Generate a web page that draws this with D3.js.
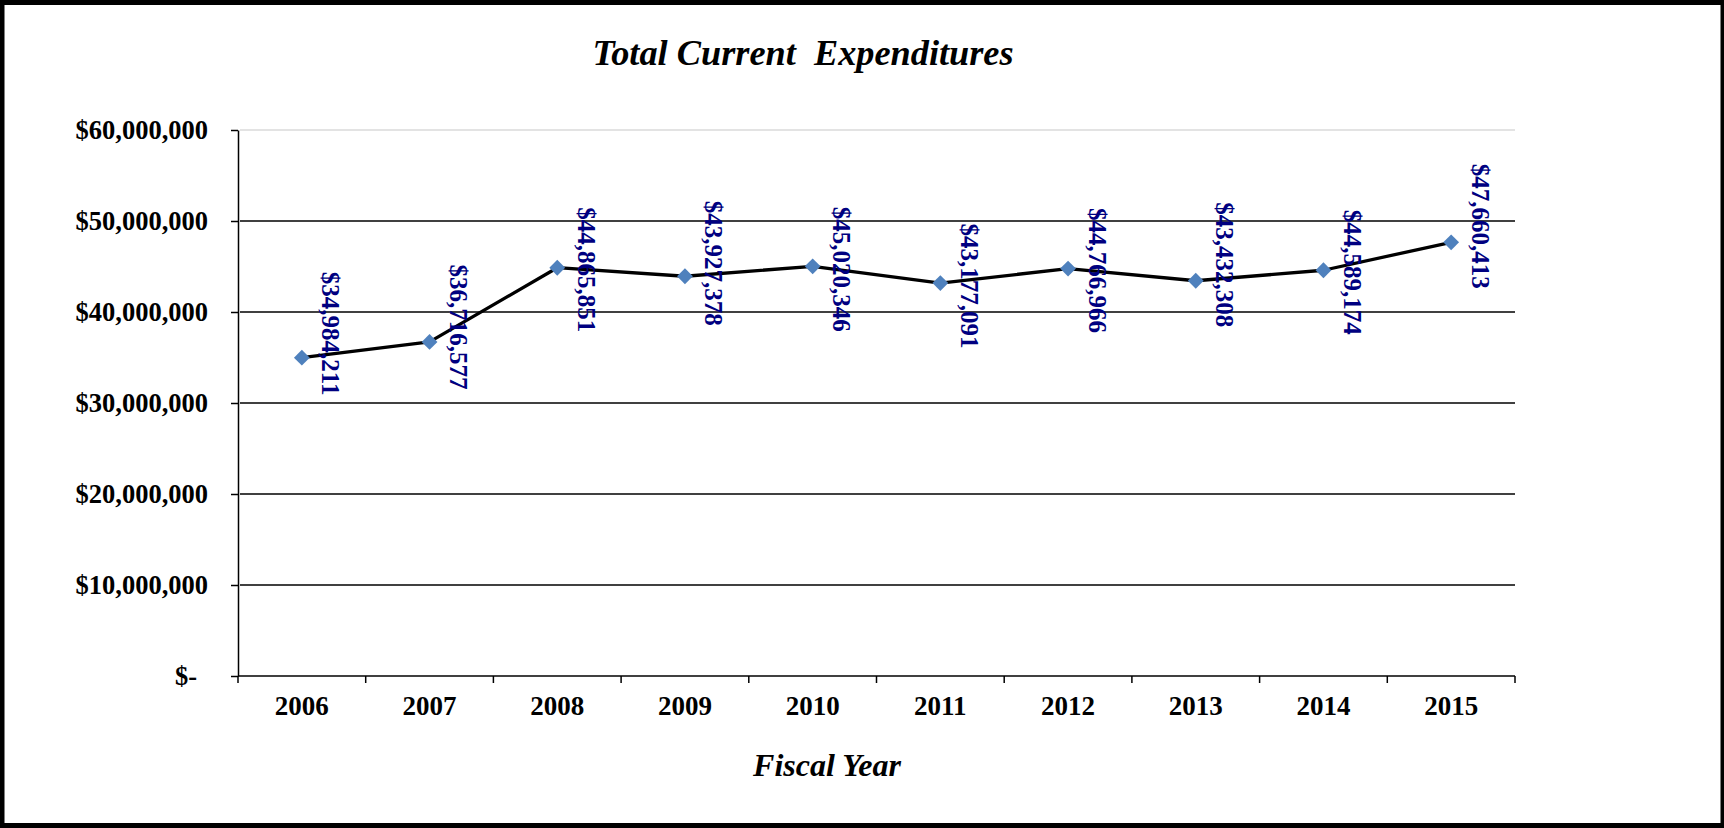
<!DOCTYPE html>
<html>
<head>
<meta charset="utf-8">
<script src="https://cdn.jsdelivr.net/npm/d3@7"></script>
<style>
  html, body { margin: 0; padding: 0; background: #fff; }
  svg { display: block; }
  text { font-family: "Times New Roman", "Liberation Serif", "DejaVu Serif", serif; font-weight: bold; }
</style>
</head>
<body>
<svg id="chart" width="1724" height="828"></svg>
<script>
// ---- data ----
const years = ["2006", "2007", "2008", "2009", "2010", "2011", "2012", "2013", "2014", "2015"];
const expenditures = [34984211, 36716577, 44865851, 43927378, 45020346, 43177091, 44766966, 43432308, 44589174, 47660413];
const yTickValues = [0, 10000000, 20000000, 30000000, 40000000, 50000000, 60000000];
const yTickLabels = ["$-", "$10,000,000", "$20,000,000", "$30,000,000", "$40,000,000", "$50,000,000", "$60,000,000"];
const chartTitle = "Total Current  Expenditures";
const xAxisTitle = "Fiscal Year";

// ---- layout (label nudges, px; manual label placement as in the reference) ----
const labelShiftPx = [-24, -15, 2, -13, 3, 3, 2, -16, 2, -16];

const svg = d3.select("#chart");
const plot = { left: 238, right: 1515, top: 130, bottom: 676 };
const serif = "'Times New Roman', 'Liberation Serif', serif";

// outer border
svg.append("rect")
  .attr("x", 2).attr("y", 2.5).attr("width", 1721).attr("height", 823)
  .attr("fill", "#fff").attr("stroke", "#000").attr("stroke-width", 5);

const x = d3.scaleBand().domain(years).range([plot.left, plot.right]).padding(0);
const y = d3.scaleLinear().domain([0, 60000000]).range([plot.bottom, plot.top]);

// gridlines
svg.append("g").selectAll("line")
  .data(yTickValues.filter(v => v > 0))
  .join("line")
  .attr("x1", plot.left + 2).attr("x2", plot.right)
  .attr("y1", d => y(d)).attr("y2", d => y(d))
  .attr("stroke", d => d === 60000000 ? "#c8c8c8" : "#000")
  .attr("stroke-width", d => d === 60000000 ? 1.2 : 1.5);

// y axis
const yAxis = d3.axisLeft(y)
  .tickValues(yTickValues)
  .tickFormat((d, i) => yTickLabels[i])
  .tickSize(7).tickSizeOuter(0).tickPadding(23);
const gy = svg.append("g").attr("transform", `translate(${plot.left},0)`).call(yAxis);
gy.select(".domain").attr("stroke", "#000").attr("stroke-width", 1.5);
gy.selectAll(".tick line").attr("stroke", "#000").attr("stroke-width", 1.5);
gy.selectAll(".tick text")
  .attr("font-size", 26.5).attr("fill", "#000")
  .attr("font-family", serif)
  .attr("font-weight", "bold")
  .attr("x", d => d === 0 ? -41 : -30);

// x axis line + boundary ticks
svg.append("line")
  .attr("x1", plot.left).attr("x2", plot.right)
  .attr("y1", plot.bottom).attr("y2", plot.bottom)
  .attr("stroke", "#000").attr("stroke-width", 1.5);
const bounds = years.map(d => x(d)).concat([plot.right]);
svg.append("g").selectAll("line")
  .data(bounds).join("line")
  .attr("x1", d => d).attr("x2", d => d)
  .attr("y1", plot.bottom).attr("y2", plot.bottom + 7)
  .attr("stroke", "#000").attr("stroke-width", 1.5);

// x labels
const xAxis = d3.axisBottom(x).tickSize(0).tickPadding(0);
const gx = svg.append("g").attr("transform", `translate(0,${plot.bottom})`).call(xAxis);
gx.select(".domain").remove();
gx.selectAll(".tick text")
  .attr("y", 39).attr("dy", 0)
  .attr("font-size", 27).attr("fill", "#000")
  .attr("font-family", serif)
  .attr("font-weight", "bold");

// line
const cx = d => x(d) + x.bandwidth() / 2;
const line = d3.line().x((d, i) => cx(years[i])).y(d => y(d));
svg.append("path")
  .datum(expenditures)
  .attr("d", line)
  .attr("fill", "none").attr("stroke", "#000").attr("stroke-width", 3.3)
  .attr("stroke-linejoin", "round");

// markers
const diamond = d3.symbol().type(d3.symbolSquare).size(125);
svg.append("g").selectAll("path")
  .data(expenditures).join("path")
  .attr("d", diamond)
  .attr("transform", (d, i) => `translate(${cx(years[i])},${y(d)}) rotate(45)`)
  .attr("fill", "#4F81BD");

// data labels (rotated)
const fmt = d3.format("$,");
svg.append("g").selectAll("text")
  .data(expenditures).join("text")
  .attr("transform", (d, i) => `translate(${cx(years[i]) + 29},${y(d) + labelShiftPx[i]}) rotate(90)`)
  .attr("text-anchor", "middle")
  .attr("dominant-baseline", "central")
  .attr("font-size", 25)
  .attr("fill", "#000080")
  .text(d => fmt(d));

// title
svg.append("text")
  .attr("x", 803).attr("y", 65)
  .attr("text-anchor", "middle")
  .attr("font-size", 36.3)
  .attr("font-style", "italic")
  .style("white-space", "pre")
  .attr("fill", "#000")
  .text(chartTitle);

// x axis title
svg.append("text")
  .attr("x", 827).attr("y", 776)
  .attr("text-anchor", "middle")
  .attr("font-size", 32)
  .attr("font-style", "italic")
  .attr("fill", "#000")
  .text(xAxisTitle);
</script>
</body>
</html>
